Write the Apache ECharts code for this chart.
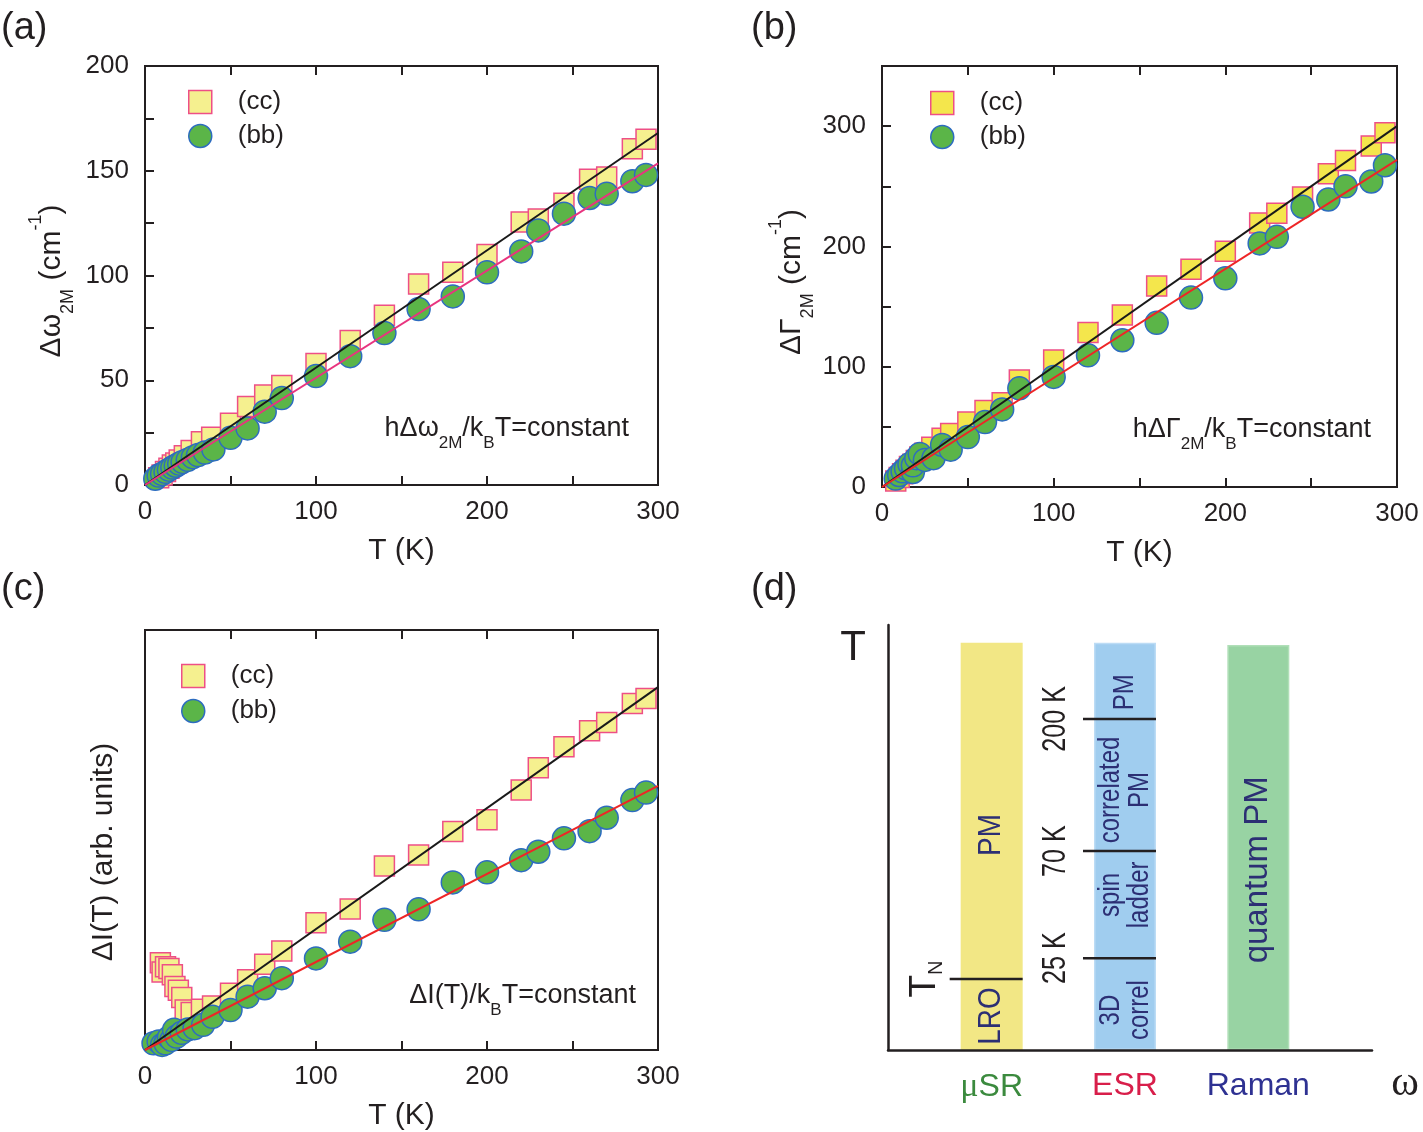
<!DOCTYPE html>
<html>
<head>
<meta charset="utf-8">
<title>Two-magnon Raman scattering vs temperature</title>
<script src="https://cdn.jsdelivr.net/npm/echarts/dist/echarts.min.js"></script>
<style>
    html, body { margin: 0; padding: 0; background: #ffffff; }
    #chart { width: 1423px; height: 1132px; }
</style>
</head>
<body>
<div id="chart"></div>
<script>

// ------------------------------
// Data
// ------------------------------

// Temperature tick labels (K)
var tempTickLabels = [0, 100, 200, 300];

// (a) two-magnon shift, cm-1
var shiftTickLabels = [0, 50, 100, 150, 200];
var shiftCcT = [8, 10, 12, 14, 16, 18, 20, 23, 27, 33, 39, 50, 60, 70, 80, 100, 120, 140, 160, 180, 200, 220, 230, 245, 260, 270, 285, 293];
var shiftCc  = [3.5, 4.8, 6.5, 8, 9.5, 10.5, 11.9, 14, 16.5, 20.7, 22.8, 29.5, 37.5, 43, 47.5, 58, 69, 81, 96, 101.5, 110, 125.5, 127, 134.5, 146, 147, 160.5, 165];
var shiftBbT = [6, 8, 10, 12, 14, 16, 18, 20, 22, 25, 28, 31, 35, 40, 50, 60, 70, 80, 100, 120, 140, 160, 180, 200, 220, 230, 245, 260, 270, 285, 293];
var shiftBb  = [3, 4.5, 5.3, 6.3, 7.3, 8.3, 9.2, 10.2, 11, 12, 13.3, 14.3, 15.5, 17, 22.5, 27, 35, 41.5, 52, 61.5, 72.5, 84, 90, 101.5, 111.5, 121.5, 129.5, 137, 139, 145, 148];
var shiftFitCc = [0, 168];
var shiftFitBb = [0, 153.5];

// (b) two-magnon width, cm-1
var widthTickLabels = [0, 100, 200, 300];
var widthCcT = [8, 10, 12, 14, 16, 18, 20, 22, 25, 29, 35, 40, 50, 60, 70, 80, 100, 120, 140, 160, 180, 200, 220, 230, 245, 260, 270, 285, 293];
var widthCc  = [5, 8, 11, 14, 17, 19, 22, 25, 28, 33, 40.5, 44.5, 54, 63.5, 70, 89, 105.5, 128.5, 143, 167, 181, 196, 219.5, 227.5, 241, 260.5, 271.5, 283.5, 294.5];
var widthBbT = [8, 10, 12, 14, 16, 18, 18, 20, 22, 25, 30, 35, 40, 50, 60, 70, 80, 100, 120, 140, 160, 180, 200, 220, 230, 245, 260, 270, 285, 293];
var widthBb  = [7, 10, 13, 15.5, 19, 12.5, 18, 24, 27.5, 22.5, 24, 35, 31, 41.5, 54, 64.5, 82, 91.5, 109.5, 122, 136.5, 157.5, 173.5, 202.5, 208, 233, 239, 250, 254, 267.5];
var widthFitCc = [0, 300];
var widthFitBb = [0, 272];

// (c) integrated intensity, arb. units
var intensityCcT = [9, 10, 12, 14, 16, 17.5, 19.5, 21.5, 23.5, 27, 33, 39.5, 50, 60, 70, 80, 100, 120, 140, 160, 180, 200, 220, 230, 245, 260, 270, 285, 293];
var intensityCc  = [20.8, 18.6, 19.8, 19.4, 17.9, 15.1, 14.2, 12.5, 9.5, 8.9, 9.7, 10.5, 13.5, 16.7, 20.4, 23.6, 30.3, 33.6, 43.8, 46.4, 52, 54.8, 61.9, 67.2, 72.2, 76, 78, 82.5, 83.7];
var intensityBbT = [5, 8, 10, 12, 14, 15.5, 17, 18.5, 21.5, 25, 29, 34, 39.5, 50, 60, 70, 80, 100, 120, 140, 160, 180, 200, 220, 230, 245, 260, 270, 285, 293];
var intensityBb  = [1.6, 2, 1.2, 1.6, 3, 2.4, 4.8, 3.2, 4.1, 4.9, 5.2, 6, 7.9, 9.5, 12.7, 14.7, 17.1, 21.8, 25.8, 31, 33.5, 39.9, 42.3, 45.2, 47.2, 50.4, 52.1, 55.3, 59.5, 61.3];
var intensityFitCc = [0, 86.4];
var intensityFitBb = [0, 62.9];

var fitT = [0, 300];

// (d) schematic phase diagram (temperature on a schematic 0-100 scale)
var methods = ['μSR', 'ESR', 'Raman'];
var methodTop = [95.8, 95.8, 95.3];
var boundaryMethod = [0, 1, 1, 1];
var boundaryLevel = [16.7, 21.6, 46.8, 77.9];
var boundaryLabel = ['T{sub|N}', '25 K', '70 K', '200 K'];
var regimeMethod = [0, 0, 1, 1, 1, 1, 2];
var regimeLevel = [50.6, 8.0, 84.2, 61.2, 36.5, 9.4, 42.4];
var regimeText = ['PM', 'LRO', 'PM', 'correlated\nPM', 'spin\nladder', '3D\ncorrel', 'quantum PM'];


// ------------------------------
// Styles
// ------------------------------

var FONT = '"Liberation Sans", Arial, Helvetica, sans-serif';
var SERIF = '"Liberation Serif", "Times New Roman", serif';
var INK = '#231f20';
var NAVY = '#2c2f74';
var SQ_FILL = '#f5f08f';
var SQ_FILL_B = '#f4e64c';
var SQ_EDGE = '#ee4f86';
var DOT_FILL = '#5bb548';
var DOT_EDGE = '#2d6cc0';
var barColors = ['#f2e785', '#a0cdef', '#98d3a3'];
var barEdges = ['#f2e785', '#bcdcf5', '#b0dfb8'];
var methodColors = ['#3b8a3e', '#d81e4a', '#2e3192'];


// ------------------------------
// Helpers
// ------------------------------

function zip(xs, ys) {
    return xs.map(function(x, i) { return [x, ys[i]]; });
}

function onlyLabels(list) {
    return function(v) { return list.indexOf(v) >= 0 ? String(v) : ''; };
}

function tempAxis(gridIndex, isTop) {
    return {
        type: 'value',
        gridIndex: gridIndex,
        position: isTop ? 'top' : 'bottom',
        min: 0,
        max: 300,
        interval: 50,
        axisLine: { show: true, onZero: false, lineStyle: { color: INK, width: 2 } },
        axisTick: { show: true, inside: true, length: 9, lineStyle: { color: INK, width: 2 } },
        axisLabel: {
            show: !isTop,
            margin: 14,
            fontSize: 26,
            fontFamily: FONT,
            color: INK,
            formatter: onlyLabels(tempTickLabels)
        },
        splitLine: { show: false },
        name: isTop ? '' : 'T (K)',
        nameLocation: 'middle',
        nameGap: 51,
        nameTextStyle: { fontSize: 30, fontFamily: FONT, color: INK }
    };
}

function valueAxis(gridIndex, max, interval, labels) {
    return {
        type: 'value',
        gridIndex: gridIndex,
        min: 0,
        max: max,
        interval: interval,
        axisLine: { show: true, onZero: false, lineStyle: { color: INK, width: 2 } },
        axisTick: { show: !!labels, inside: true, length: 9, lineStyle: { color: INK, width: 2 } },
        axisLabel: {
            show: !!labels,
            margin: 16,
            fontSize: 26,
            fontFamily: FONT,
            color: INK,
            formatter: labels ? onlyLabels(labels) : null
        },
        splitLine: { show: false }
    };
}

function squares(axis, data, fill) {
    return {
        name: '(cc)', type: 'scatter', xAxisIndex: axis, yAxisIndex: axis / 2,
        symbol: 'rect', symbolSize: 20, z: 2,
        itemStyle: { color: fill, borderColor: SQ_EDGE, borderWidth: 1.5, opacity: 1 },
        data: data
    };
}

function dots(axis, data) {
    return {
        name: '(bb)', type: 'scatter', xAxisIndex: axis, yAxisIndex: axis / 2,
        symbol: 'circle', symbolSize: 23, z: 3,
        itemStyle: { color: DOT_FILL, borderColor: DOT_EDGE, borderWidth: 1.5, opacity: 1 },
        data: data
    };
}

function fit(axis, data, color) {
    return {
        name: 'fit', type: 'line', xAxisIndex: axis, yAxisIndex: axis / 2,
        symbol: 'none', z: 4, silent: true,
        lineStyle: { color: color, width: 2 },
        data: data
    };
}

function panelLegend(left, top, gap, ccFill) {
    return {
        orient: 'vertical',
        left: left,
        top: top,
        padding: 0,
        itemGap: gap,
        itemWidth: 23,
        itemHeight: 23,
        selectedMode: false,
        textStyle: { fontSize: 26, fontFamily: FONT, color: INK, padding: [0, 0, 0, 21] },
        data: [
            { name: '(cc)', icon: 'rect', itemStyle: { color: ccFill, borderColor: SQ_EDGE, borderWidth: 1.5 } },
            { name: '(bb)', icon: 'circle', itemStyle: { color: DOT_FILL, borderColor: DOT_EDGE, borderWidth: 1.5 } }
        ]
    };
}

// rich sub/superscript styles for a given main font size
function scripts(size) {
    return {
        sub: { fontSize: size, fontFamily: FONT, fill: INK, lineHeight: 24, verticalAlign: 'bottom' },
        sup: { fontSize: size, fontFamily: FONT, fill: INK, lineHeight: 16, verticalAlign: 'top' }
    };
}

function text(x, y, str, size, opts) {
    opts = opts || {};
    var align = opts.align || 'center';
    return {
        type: 'text',
        x: x,
        y: y,
        rotation: opts.rotate ? Math.PI / 2 : 0,
        silent: true,
        style: {
            text: str,
            fontSize: size,
            fontFamily: opts.family || FONT,
            fill: opts.color || INK,
            align: align,
            textAlign: align,
            verticalAlign: 'middle',
            textVerticalAlign: 'middle',
            lineHeight: opts.lineHeight,
            rich: opts.rich
        }
    };
}

var annotationSub = { sub: { fontSize: 17, fontFamily: FONT, fill: INK, lineHeight: 17, verticalAlign: 'bottom' } };


// ------------------------------
// Chart
// ------------------------------

var chartElement = document.getElementById('chart');
var chart = echarts.init(chartElement, null, { renderer: 'canvas' });

var boxed = { show: true, borderColor: INK, borderWidth: 2, backgroundColor: 'transparent', outerBoundsMode: 'none' };

chart.setOption({
    animation: false,
    backgroundColor: '#ffffff',
    textStyle: { fontFamily: FONT, color: INK },

    grid: [
        Object.assign({ left: 145, top: 66, width: 513, height: 419 }, boxed),
        Object.assign({ left: 882, top: 66, width: 515, height: 421 }, boxed),
        Object.assign({ left: 145, top: 630, width: 513, height: 420 }, boxed),
        { left: 888, top: 625, width: 484, height: 425, outerBoundsMode: 'none' },
        { left: 925, top: 625, width: 400, height: 425, outerBoundsMode: 'none' }
    ],

    legend: [
        panelLegend(188, 89, 8, SQ_FILL),
        panelLegend(930, 90, 8, SQ_FILL_B),
        panelLegend(181, 663, 9, SQ_FILL)
    ],

    // Horizontal axes: bottom ones carry the data, top ones mirror the ticks
    xAxis: [
        tempAxis(0, false), tempAxis(0, true),
        tempAxis(1, false), tempAxis(1, true),
        tempAxis(2, false), tempAxis(2, true),
        {
            type: 'value', gridIndex: 3, min: 0, max: 1, z: 10,
            axisLine: { show: true, lineStyle: { color: INK, width: 2.5 } },
            axisTick: { show: false }, axisLabel: { show: false }, splitLine: { show: false }
        },
        {
            type: 'category', gridIndex: 4, data: methods,
            axisLine: { show: false }, axisTick: { show: false }, splitLine: { show: false },
            axisLabel: {
                interval: 0,
                margin: 20,
                formatter: function(v, i) {
                    if (v.charAt(0) === 'μ') return '{mu|μ}{m0|' + v.slice(1) + '}';
                    return '{m' + i + '|' + v + '}';
                },
                rich: {
                    mu: { fontFamily: SERIF, fontSize: 34, color: methodColors[0] },
                    m0: { fontFamily: FONT, fontSize: 32, color: methodColors[0] },
                    m1: { fontFamily: FONT, fontSize: 32, color: methodColors[1] },
                    m2: { fontFamily: FONT, fontSize: 32, color: methodColors[2] }
                }
            }
        }
    ],

    yAxis: [
        valueAxis(0, 200, 25, shiftTickLabels),
        valueAxis(1, 350, 50, widthTickLabels),
        valueAxis(2, 100, 25, null),
        {
            type: 'value', gridIndex: 3, min: 0, max: 1, z: 10,
            axisLine: { show: true, lineStyle: { color: INK, width: 2.5 } },
            axisTick: { show: false }, axisLabel: { show: false }, splitLine: { show: false }
        },
        { type: 'value', gridIndex: 4, min: 0, max: 100, show: false }
    ],

    series: [
        // (a)
        squares(0, zip(shiftCcT, shiftCc), SQ_FILL),
        dots(0, zip(shiftBbT, shiftBb)),
        fit(0, zip(fitT, shiftFitCc), '#1a1a1a'),
        fit(0, zip(fitT, shiftFitBb), '#e8347f'),

        // (b)
        squares(2, zip(widthCcT, widthCc), SQ_FILL_B),
        dots(2, zip(widthBbT, widthBb)),
        fit(2, zip(fitT, widthFitCc), '#1a1a1a'),
        fit(2, zip(fitT, widthFitBb), '#ee2526'),

        // (c)
        squares(4, zip(intensityCcT, intensityCc), SQ_FILL),
        dots(4, zip(intensityBbT, intensityBb)),
        fit(4, zip(fitT, intensityFitCc), '#1a1a1a'),
        fit(4, zip(fitT, intensityFitBb), '#ee2526'),

        // (d) probe windows
        {
            name: 'window', type: 'bar', xAxisIndex: 7, yAxisIndex: 4,
            barWidth: 62, silent: true, z: 2,
            data: methodTop.map(function(v, i) {
                return { value: v, itemStyle: { color: barColors[i], borderColor: barEdges[i], borderWidth: 1.5 } };
            })
        },

        // (d) crossover lines with their temperatures
        {
            name: 'boundary', type: 'custom', xAxisIndex: 7, yAxisIndex: 4, z: 3, silent: true, clip: false,
            data: boundaryMethod.map(function(m, i) { return [methods[m], boundaryLevel[i]]; }),
            renderItem: function(params, api) {
                var idx = params.dataIndex;
                var p = api.coord([api.value(0), api.value(1)]);
                var isTN = boundaryMethod[idx] === 0;
                return {
                    type: 'group',
                    children: [
                        {
                            type: 'line',
                            shape: { x1: p[0] - 42, y1: p[1], x2: p[0] + 31, y2: p[1] },
                            style: { stroke: INK, lineWidth: 2.5 }
                        },
                        {
                            type: 'text',
                            x: p[0] - (isTN ? 67 : 69),
                            y: p[1],
                            rotation: Math.PI / 2,
                            scaleX: isTN ? 1 : 0.74,
                            style: {
                                text: boundaryLabel[idx],
                                fontSize: isTN ? 37 : 34,
                                fontFamily: FONT,
                                fill: INK,
                                align: 'center',
                                verticalAlign: 'middle',
                                lineHeight: 44,
                                rich: {
                                    sub: { fontSize: 20, fontFamily: FONT, fill: INK, lineHeight: 18, verticalAlign: 'bottom' }
                                }
                            }
                        }
                    ]
                };
            }
        },

        // (d) regime names
        {
            name: 'regime', type: 'custom', xAxisIndex: 7, yAxisIndex: 4, z: 3, silent: true, clip: false,
            data: regimeMethod.map(function(m, i) { return [methods[m], regimeLevel[i]]; }),
            renderItem: function(params, api) {
                var idx = params.dataIndex;
                var p = api.coord([api.value(0), api.value(1)]);
                var look = [
                    { size: 31, sx: 0.9 },
                    { size: 30, sx: 0.8 },
                    { size: 33, sx: 1 }
                ][regimeMethod[idx]];
                return {
                    type: 'text',
                    x: p[0],
                    y: p[1],
                    rotation: Math.PI / 2,
                    scaleX: look.sx,
                    style: {
                        text: regimeText[idx],
                        fontSize: look.size,
                        fontFamily: FONT,
                        fill: NAVY,
                        align: 'center',
                        verticalAlign: 'middle',
                        lineHeight: 29
                    }
                };
            }
        }
    ],

    graphic: {
        elements: [
            // panel letters
            text(1, 29, '(a)', 38, { align: 'left' }),
            text(751, 29, '(b)', 38, { align: 'left' }),
            text(1, 590, '(c)', 38, { align: 'left' }),
            text(751, 590, '(d)', 38, { align: 'left' }),

            // vertical titles
            text(52, 281, 'Δω{sub|2M} (cm{sup|-1})', 30, { rotate: true, lineHeight: 50, rich: scripts(18) }),
            text(792, 282, 'ΔΓ{sub|2M} (cm{sup|-1})', 30, { rotate: true, lineHeight: 50, rich: scripts(18) }),
            text(104, 852, 'ΔI(T) (arb. units)', 30, { rotate: true }),

            // scaling relations
            text(629, 429, 'hΔω{sub|2M}/k{sub|B}T=constant', 27, { align: 'right', lineHeight: 46, rich: annotationSub }),
            text(1371, 430, 'hΔΓ{sub|2M}/k{sub|B}T=constant', 27, { align: 'right', lineHeight: 46, rich: annotationSub }),
            text(636, 996, 'ΔI(T)/k{sub|B}T=constant', 27, { align: 'right', lineHeight: 46, rich: annotationSub }),

            // schematic axes names
            text(853, 648, 'T', 42),
            text(1405, 1084, 'ω', 42, { family: SERIF })
        ]
    }
});


// ------------------------------
// Resize
// ------------------------------

window.addEventListener('resize', function() {
    chart.resize();
});

</script>
</body>
</html>
